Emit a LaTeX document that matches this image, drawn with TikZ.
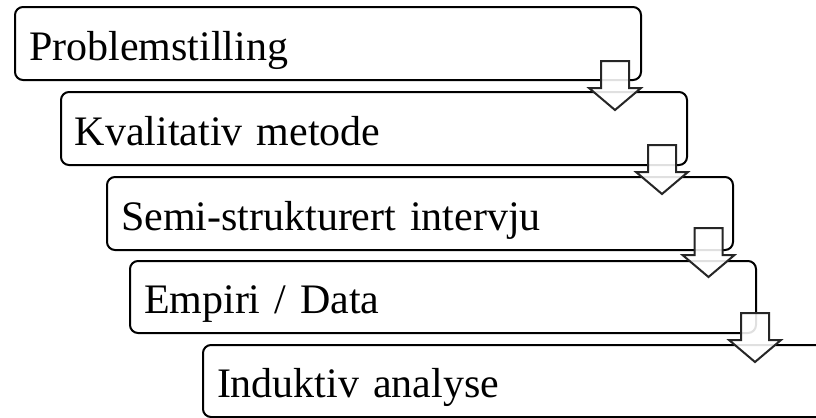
\documentclass[tikz,border=0pt]{standalone}
\usepackage{fontspec}
\setmainfont{Liberation Serif}
\usepackage{tikz}
\usetikzlibrary{positioning}

\begin{document}
\begin{tikzpicture}[
    x=0.5pt, y=-0.5pt,
    font=\fontsize{21}{25}\selectfont,
    stepbox/.style={
        draw=black,
        line width=1pt,
        rounded corners=4pt,
        anchor=north west,
        align=left,
        text width=299pt,
        inner xsep=7pt,
        % fixed strut so every line sits at the same height
        execute at begin node={\rule[-5pt]{0pt}{26.5pt}},
        minimum height=36.5pt,
        fill=white
    },
    flowarrow/.style={
        draw=black!85,
        line width=1pt,
        fill=white,
        fill opacity=0.88,
        line join=miter
    }
]

% Stable crop.
\useasboundingbox (0,0) rectangle (816,418);

% --------------------------------------------------
% Staircase of steps
% --------------------------------------------------
\node[stepbox] (problem)   at ( 14,  6) {Problemstilling};
\node[stepbox] (method)    at ( 60, 91) {Kvalitativ metode};
\node[stepbox] (interview) at (106,176) {Semi-strukturert intervju};
\node[stepbox, minimum height=36pt] (empiri) at (129,260) {Empiri / Data};
\node[stepbox, minimum height=36pt] (analysis) at (202,344) {Induktiv analyse};

% Top of each block arrow, one between each pair of steps.
\coordinate (a1) at (615,  61);
\coordinate (a2) at (662, 145);
\coordinate (a3) at (708.5, 228);
\coordinate (a4) at (755, 313);

% --------------------------------------------------
% Hollow down arrows
% --------------------------------------------------
\foreach \c in {a1,a2,a3,a4}
    \draw[flowarrow] (\c) ++(-14,0) -- ++(28,0) -- ++(0,27) -- ++(12,0)
        -- ++(-26,22) -- ++(-26,-22) -- ++(12,0) -- cycle;

\end{tikzpicture}
\end{document}
